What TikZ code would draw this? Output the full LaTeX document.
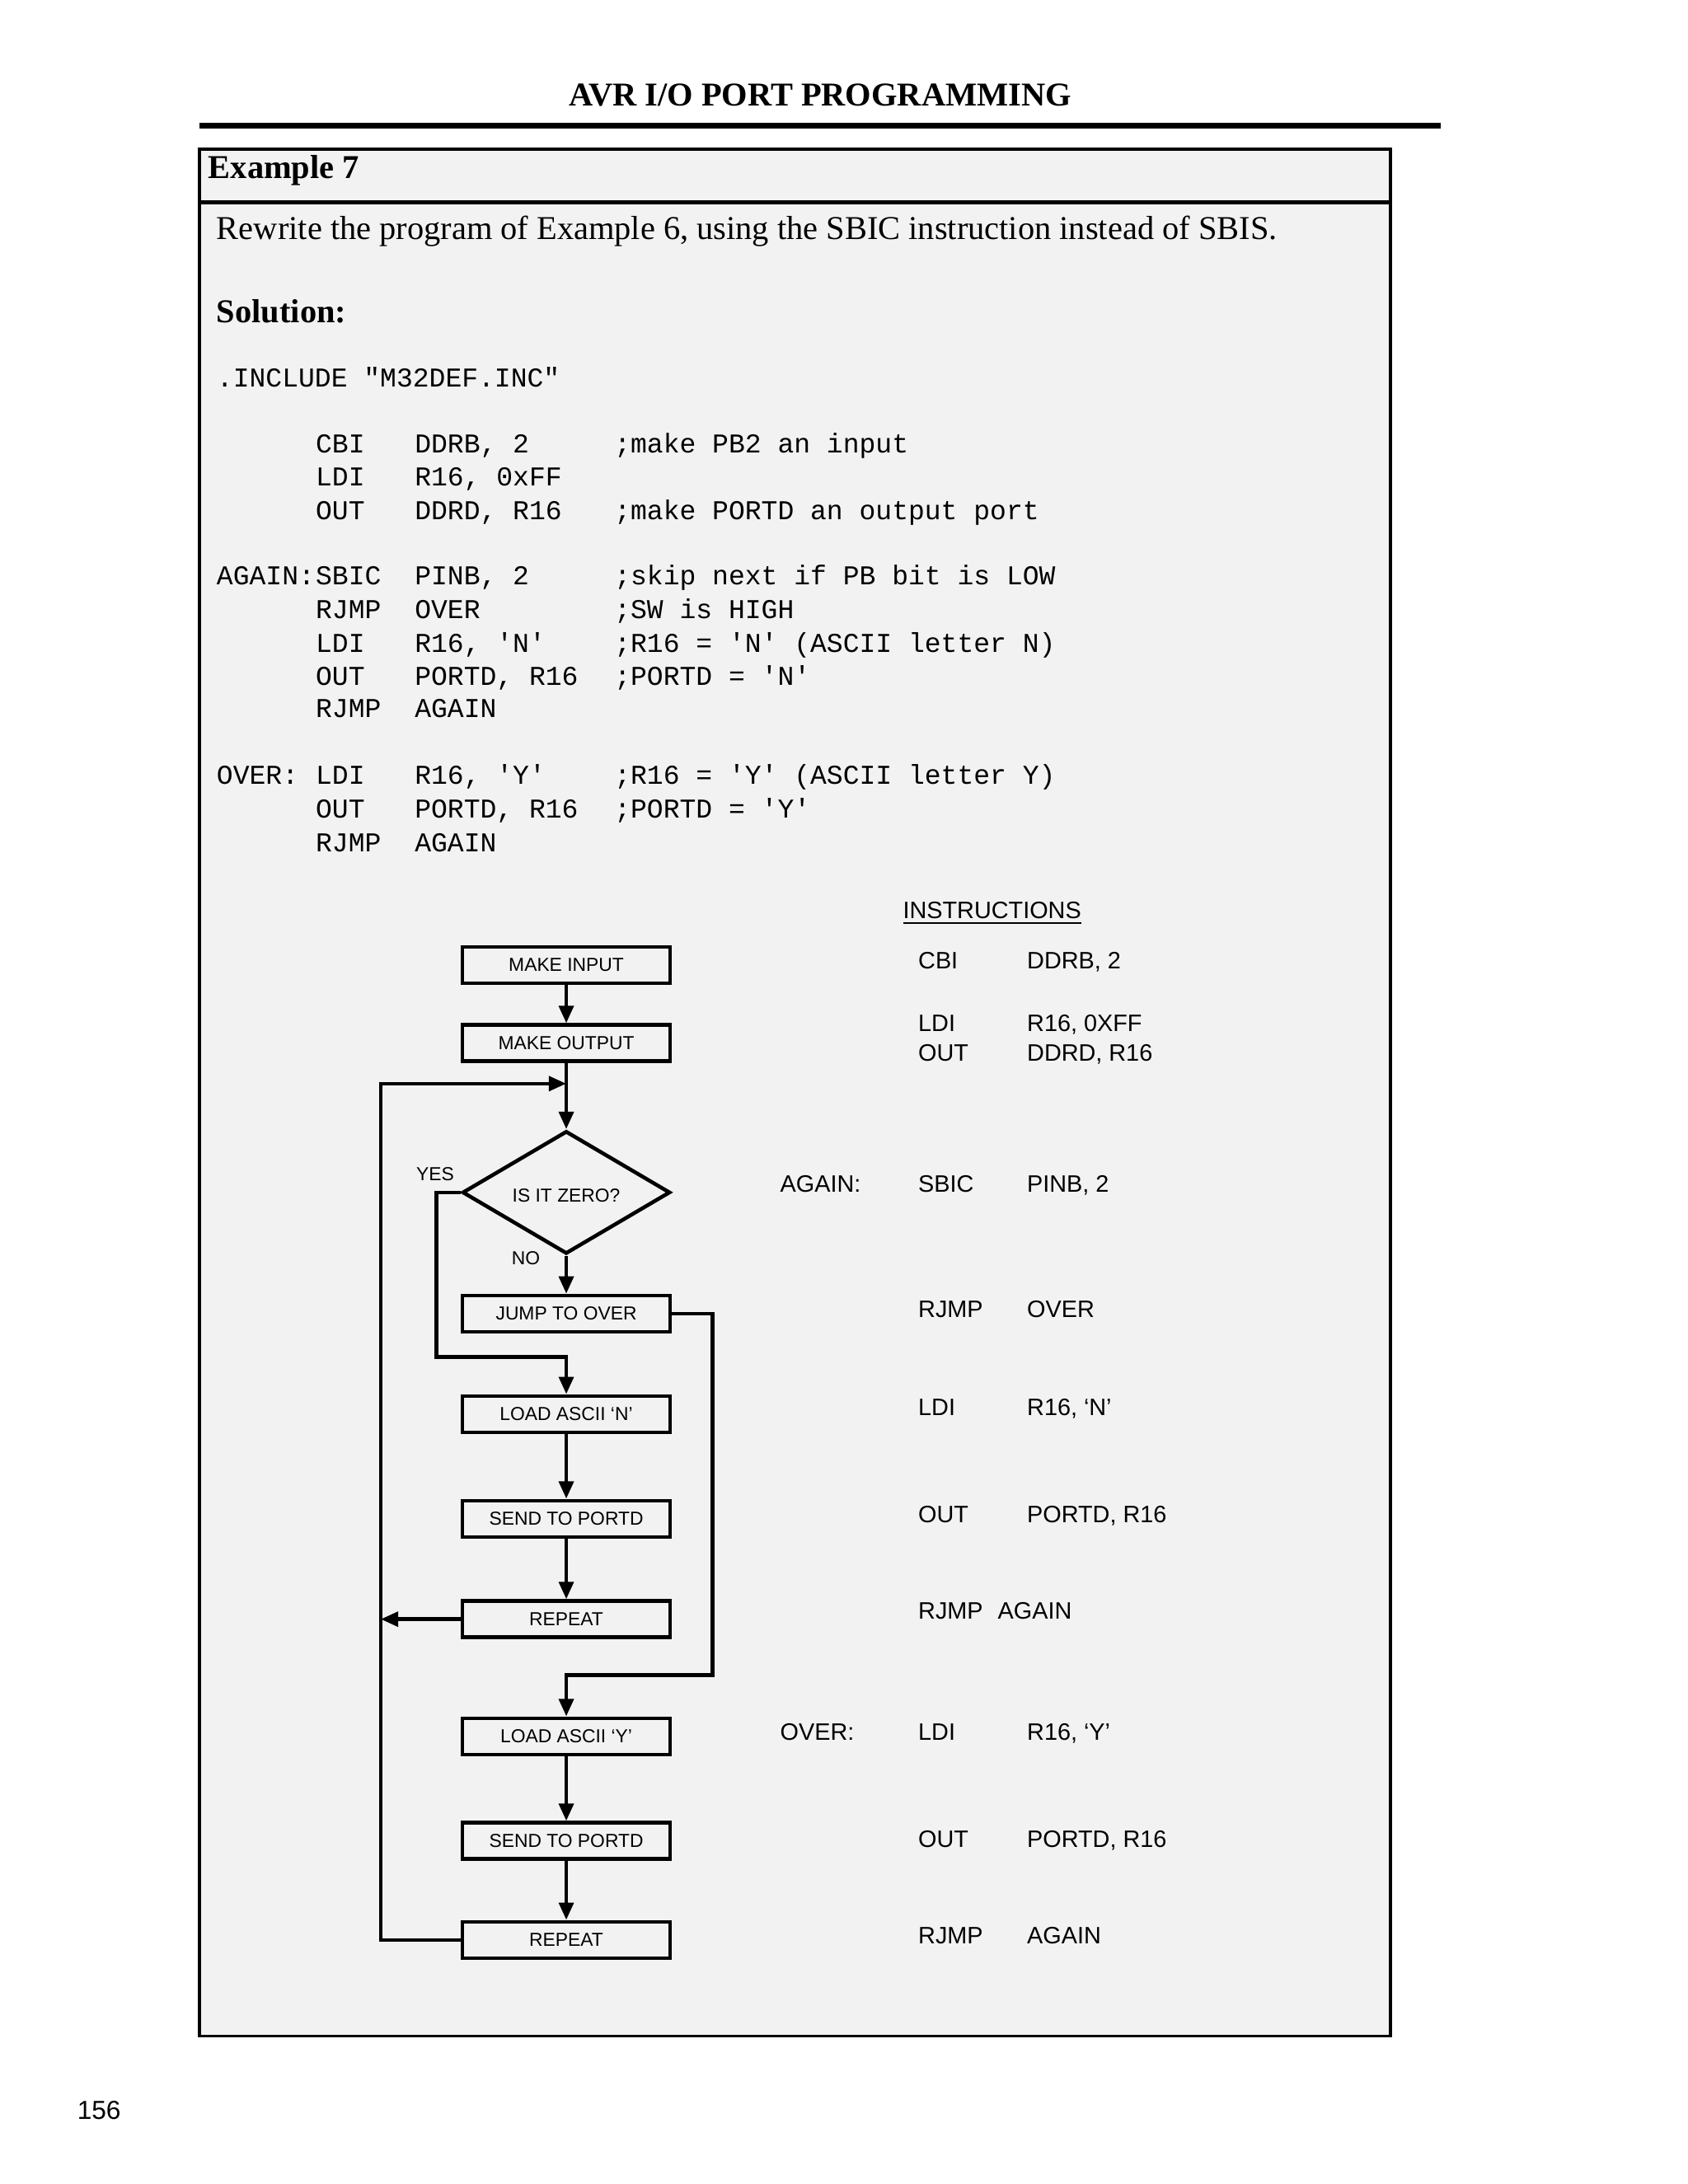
\documentclass[tikz,border=0pt]{standalone}
\usepackage{fontspec}
\setmainfont{Liberation Serif}
\setsansfont{Liberation Sans}
\setmonofont{Liberation Mono}
\usetikzlibrary{shapes.geometric,arrows.meta}
\begin{document}
\begin{tikzpicture}[x=0.016926cm,y=-0.016926cm,
  fbox/.style={draw,line width=1.3pt,minimum width=2.522cm,minimum height=0.44cm,inner sep=0},
  lbl/.style={font=\sffamily\fontsize{6.5}{7}\selectfont},
  ins/.style={anchor=west,inner sep=0,font=\sffamily\fontsize{8.2}{9}\selectfont},
  code/.style={anchor=west,inner sep=0,font=\ttfamily\fontsize{9.4}{11}\selectfont},
  arr/.style={line width=1.3pt,-{Triangle[length=6pt,width=5pt]}},
  ln/.style={line width=1.3pt}]
\useasboundingbox (0,0) rectangle (1210,1566);
\fill[white] (0,0) rectangle (1210,1566);
% title
\node[font=\bfseries\fontsize{11.5}{13}\selectfont] (title) at (588,68) {AVR I/O PORT PROGRAMMING};
\draw[line width=2pt] (143,90) -- (1033,90);
% frame
\filldraw[fill=black!5,line width=1pt] (143,107) rectangle (997,1460);
\draw[line width=1.6pt] (143,145) -- (997,145);
\node[anchor=west,inner sep=0,font=\bfseries\fontsize{11.5}{13}\selectfont] (ex) at (149,122) {Example 7};
\node[anchor=west,inner sep=0,font=\fontsize{11.5}{13}\selectfont] (q) at (155,166) {Rewrite the program of Example 6, using the SBIC instruction instead of SBIS.};
\node[anchor=west,inner sep=0,font=\bfseries\fontsize{11.5}{13}\selectfont] (sol) at (155,223) {Solution:};
% code
\node[code] at (155,273) {\strut.INCLUDE "M32DEF.INC"};
\foreach \y/\a/\b/\c/\d in {320//CBI/{DDRB, 2}/{;make PB2 an input},
  344//LDI/{R16, 0xFF}/{},
  368//OUT/{DDRD, R16}/{;make PORTD an output port},
  415/AGAIN:/SBIC/{PINB, 2}/{;skip next if PB bit is LOW},
  439//RJMP/OVER/{;SW is HIGH},
  463//LDI/{R16, 'N'}/{;R16 = 'N' (ASCII letter N)},
  487//OUT/{PORTD, R16}/{;PORTD = 'N'},
  510//RJMP/AGAIN/{},
  558/OVER:/LDI/{R16, 'Y'}/{;R16 = 'Y' (ASCII letter Y)},
  582//OUT/{PORTD, R16}/{;PORTD = 'Y'},
  606//RJMP/AGAIN/{}}{
  \node[code] at (155,\y) {\strut\a};
  \node[code] at (226,\y) {\strut\b};
  \node[code] at (297,\y) {\strut\c};
  \node[code] at (440,\y) {\strut\d};
}
% flowchart
\node[fbox,lbl] (b1) at (406,692) {MAKE INPUT};
\node[fbox,lbl] (b2) at (406,748) {MAKE OUTPUT};
\node[diamond,draw,line width=1.3pt,minimum width=2.522cm,minimum height=1.49cm,inner sep=0] (d) at (406,855) {};
\node[lbl] at (406,857) {IS IT ZERO?};
\node[fbox,lbl] (b3) at (406,942) {JUMP TO OVER};
\node[fbox,lbl] (b4) at (406,1014) {LOAD ASCII ‘N’};
\node[fbox,lbl] (b5) at (406,1089) {SEND TO PORTD};
\node[fbox,lbl] (b6) at (406,1161) {REPEAT};
\node[fbox,lbl] (b7) at (406,1245) {LOAD ASCII ‘Y’};
\node[fbox,lbl] (b8) at (406,1320) {SEND TO PORTD};
\node[fbox,lbl] (b9) at (406,1391) {REPEAT};
\node[lbl] at (312,842) {YES};
\node[lbl] at (377,902) {NO};
\coordinate (top) at (406,777);
\draw[arr] (b1) -- (b2);
\draw[ln] (b2) -- (top);
\draw[arr] (top) -- (d.north);
\draw[arr] (d.south) -- (b3);
\draw[arr] (b4) -- (b5);
\draw[arr] (b5) -- (b6);
\draw[arr] (b7) -- (b8);
\draw[arr] (b8) -- (b9);
\draw[arr] (b9.west) -- (273,1391) -- (273,777) -- (top);
\draw[arr] (b6.west) -- (273,1161);
\draw[arr] (d.west) -- (313,855) -- (313,973) -- (406,973) -- (b4.north);
\draw[arr] (b3.east) -- (511,942) -- (511,1201) -- (406,1201) -- (b7.north);
% instructions
\node[ins] at (647,655) {\underline{INSTRUCTIONS}};
\foreach \y/\a/\b/\c in {691//CBI/{DDRB, 2},736//LDI/{R16, 0XFF},757//OUT/{DDRD, R16},
  851/AGAIN:/SBIC/{PINB, 2},941//RJMP/OVER,1011//LDI/{R16, ‘N’},1088//OUT/{PORTD, R16},
  1244/OVER:/LDI/{R16, ‘Y’},1321//OUT/{PORTD, R16},1390//RJMP/AGAIN}{
  \node[ins] at (559,\y) {\strut\a};
  \node[ins] at (658,\y) {\strut\b};
  \node[ins] at (736,\y) {\strut\c};
}
\node[ins] at (658,1157) {\strut RJMP};
\node[ins] at (715,1157) {\strut AGAIN};
\node[font=\sffamily\fontsize{9}{10}\selectfont] (pg) at (71,1513) {156};
\end{tikzpicture}
\end{document}
